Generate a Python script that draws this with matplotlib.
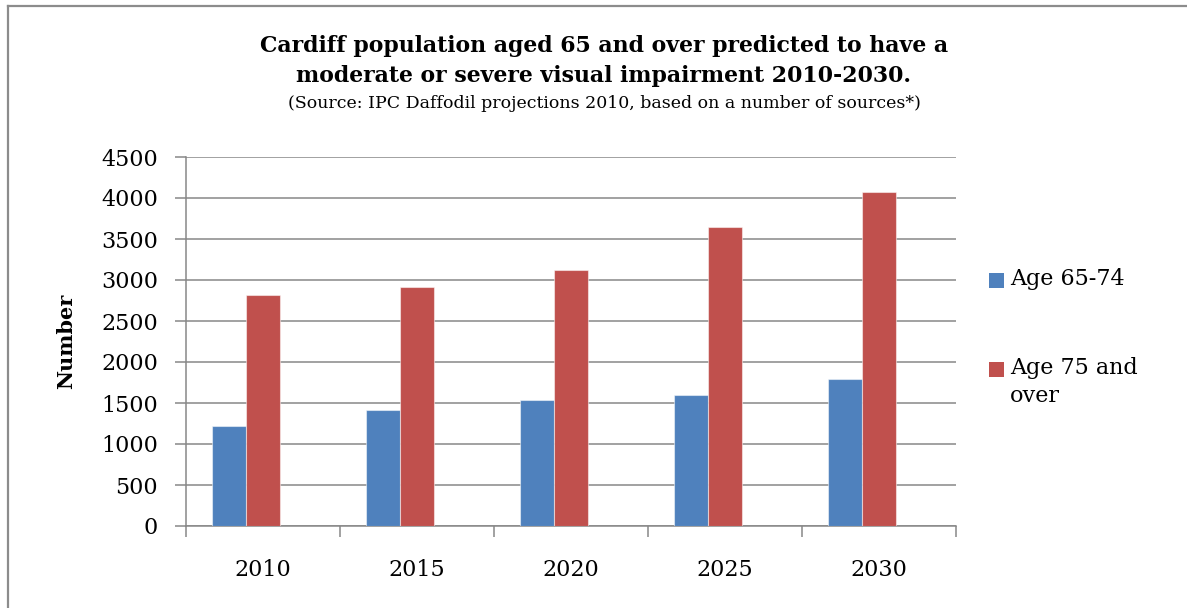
import numpy as np
import matplotlib
matplotlib.use('Agg')
import matplotlib.pyplot as plt
from matplotlib.patches import Rectangle
from matplotlib.lines import Line2D

plt.rcParams['font.family'] = ['DejaVu Serif']

years = ['2010', '2015', '2020', '2025', '2030']
age_65_74 = [1222, 1409, 1539, 1596, 1787]
age_75_over = [2823, 2916, 3119, 3647, 4074]
series_labels = ['Age 65-74', 'Age 75 and\nover']
colors = ['#4F81BD', '#C0504D']

title_lines = ['Cardiff population aged 65 and over predicted to have a',
	'moderate or severe visual impairment 2010-2030.']
subtitle = '(Source: IPC Daffodil projections 2010, based on a number of sources*)'

W, H = 1187, 608
fig = plt.figure(figsize=(W / 100, H / 100), dpi=100)
fig.patch.set_facecolor('white')

# axes box in pixels
x0, x1 = 186, 956
y_top, y_bot = 157, 526
ax = fig.add_axes([x0 / W, 1 - y_bot / H, (x1 - x0) / W, (y_bot - y_top) / H])

grid_c = '#878787'
bw = 0.22
x = np.arange(len(years))
ax.bar(x - bw, age_65_74, width=bw, color=colors[0],
	edgecolor=(1, 1, 1, 0.5), linewidth=0.8, zorder=3)
ax.bar(x, age_75_over, width=bw, color=colors[1],
	edgecolor=(1, 1, 1, 0.5), linewidth=0.8, zorder=3)

ax.set_xlim(-0.5, len(years) - 0.5)
ax.set_ylim(0, 4500)
ax.set_yticks(np.arange(0, 4501, 500))
ax.yaxis.grid(True, color=grid_c, linewidth=1.1, zorder=0)
ax.set_axisbelow(True)

# category boundaries carry the ticks, labels sit in the middle
ax.set_xticks(np.arange(-0.5, len(years), 1.0))
ax.set_xticklabels([])
ax.set_xticks(x, minor=True)
ax.set_xticklabels(years, minor=True)
ax.tick_params(axis='x', which='major', direction='out', length=8, width=1.1, color=grid_c)
ax.tick_params(axis='x', which='minor', length=0, pad=24, labelsize=16)
ax.tick_params(axis='y', direction='out', length=8, width=1.1, color=grid_c, labelsize=16, pad=12)

for s in ['top', 'right']:
	ax.spines[s].set_visible(False)
for s in ['left', 'bottom']:
	ax.spines[s].set_color(grid_c)
	ax.spines[s].set_linewidth(1.1)

ax.set_ylabel('Number', fontsize=15, fontweight='bold', labelpad=18)

cx = 604 / W
for i, line in enumerate(title_lines):
	fig.text(cx, 1 - (52 + 30 * i) / H, line, ha='center', va='baseline',
		fontsize=15.8, fontweight='bold')
fig.text(cx, 1 - 108 / H, subtitle, ha='center', va='baseline', fontsize=12.5)

# legend
leg_y = [280, 369]
for i, lab in enumerate(series_labels):
	fig.patches.append(Rectangle((989 / W, 1 - (leg_y[i] + 7.5) / H), 15 / W, 15 / H,
		transform=fig.transFigure, facecolor=colors[i], edgecolor='none'))
	fig.text(1010 / W, 1 - (leg_y[i] - 12) / H, lab, ha='left', va='top', fontsize=16,
		linespacing=1.35)

# chart area border (left and top edges)
fig.add_artist(Line2D([8 / W, 8 / W], [0, 1 - 6 / H], transform=fig.transFigure,
	color='#8c8c8c', linewidth=1.6))
fig.add_artist(Line2D([8 / W, 1], [1 - 6 / H, 1 - 6 / H], transform=fig.transFigure,
	color='#8c8c8c', linewidth=1.6))

fig.savefig('out.png', dpi=100)
